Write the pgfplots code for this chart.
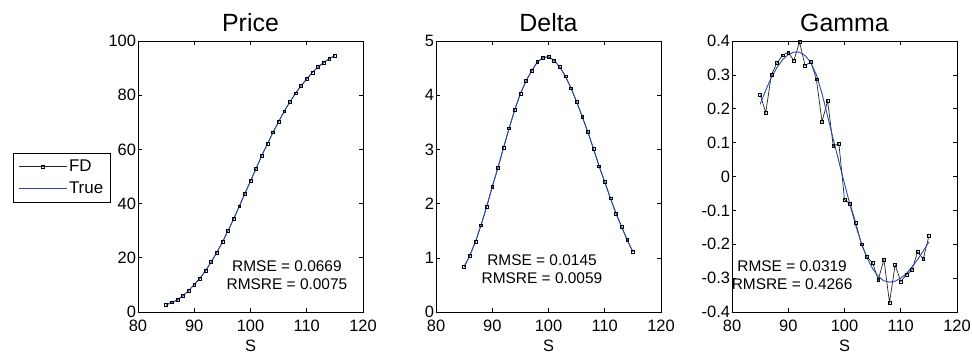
\documentclass[border=0pt]{standalone}
\usepackage{pgfplots}
\pgfplotsset{compat=1.18}
\usepackage{fontspec}
\setmainfont{Liberation Sans}
\definecolor{trueblue}{RGB}{40,70,180}

\pgfplotstableread{
S P D
85 2.6 0.83
86 3.6 1.04
87 4.4 1.29
88 6.0 1.60
89 7.9 1.94
90 10.1 2.31
91 12.4 2.66
92 15.2 3.03
93 18.4 3.39
94 21.9 3.73
95 25.8 4.03
96 30.0 4.26
97 34.3 4.45
98 39.0 4.61
99 43.7 4.69
100 48.3 4.71
101 53.0 4.64
102 57.7 4.52
103 62.0 4.35
104 66.3 4.13
105 70.2 3.88
106 74.1 3.60
107 77.5 3.32
108 80.7 3.01
109 83.5 2.69
110 86.0 2.40
111 88.4 2.10
112 90.4 1.82
113 92.0 1.57
114 93.5 1.33
115 94.6 1.11
}\pricedelta

\pgfplotstableread{
S G GT
85 0.241 0.213
86 0.189 0.255
87 0.300 0.292
88 0.335 0.322
89 0.358 0.345
90 0.366 0.360
91 0.342 0.367
92 0.397 0.367
93 0.327 0.357
94 0.339 0.337
95 0.287 0.300
96 0.162 0.245
97 0.223 0.178
98 0.090 0.110
99 0.097 0.044
100 -0.068 -0.021
101 -0.081 -0.085
102 -0.137 -0.145
103 -0.200 -0.197
104 -0.238 -0.240
105 -0.255 -0.272
106 -0.305 -0.295
107 -0.245 -0.308
108 -0.372 -0.312
109 -0.261 -0.309
110 -0.310 -0.300
111 -0.290 -0.286
112 -0.276 -0.267
113 -0.223 -0.245
114 -0.243 -0.220
115 -0.176 -0.193
}\gammatab

\tikzset{rms/.style={font=\fontsize{15.5}{18}\selectfont, align=center}}
\pgfplotsset{
 myax/.style={scale only axis, width=225bp, height=271bp, anchor=south west,
   xmin=80, xmax=120, xtick={80,90,100,110,120},
   tick align=inside, major tick length=4bp,
   tick style={black, line width=0.6bp}, axis line style={black, line width=0.8bp},
   ticklabel style={font=\fontsize{16.5}{18}\selectfont},
   xticklabel style={yshift=-5bp},
   yticklabel style={xshift=1.5bp},
   title style={font=\fontsize{25}{28}\selectfont},
   xlabel={S}, xlabel style={font=\fontsize{16.5}{18}\selectfont, yshift=-1bp},
   /pgf/number format/assume math mode=true},
 fd/.style={black!85, line width=0.7bp, mark=square, mark size=1.4bp, mark options={solid, black, line width=0.5bp}},
 tr/.style={trueblue, line width=0.9bp, no marks}
}

\begin{document}
\begin{tikzpicture}
\path[use as bounding box] (0,0) rectangle (972bp,356bp);

\begin{axis}[myax, at={(138bp,44bp)}, title={Price},
  ymin=0, ymax=100, ytick={0,20,40,60,80,100},
  legend style={at={(-0.1222,0.587)}, anchor=north east, draw=black, line width=0.6bp,
    font=\fontsize{17}{19}\selectfont, cells={anchor=west}, row sep=5bp,
    inner xsep=5bp, inner ysep=5bp},
  legend image code/.code={\draw[mark repeat=2, mark phase=2, #1] plot coordinates {(0bp,0bp) (24bp,0bp) (48bp,0bp)};}]
\addplot[fd] table[x=S, y=P] {\pricedelta};
\addlegendentry{FD}
\addplot[tr] table[x=S, y=P] {\pricedelta};
\addlegendentry{True}
\node[rms] at (rel axis cs:0.662,0.1365) {RMSE = 0.0669\\RMSRE = 0.0075};
\end{axis}

\begin{axis}[myax, at={(436bp,44bp)}, title={Delta},
  ymin=0, ymax=5, ytick={0,1,2,3,4,5}]
\addplot[fd] table[x=S, y=D] {\pricedelta};
\addplot[tr] table[x=S, y=D] {\pricedelta};
\node[rms] at (rel axis cs:0.471,0.159) {RMSE = 0.0145\\RMSRE = 0.0059};
\end{axis}

\begin{axis}[myax, at={(732bp,44bp)}, title={Gamma},
  ymin=-0.4, ymax=0.4, ytick={-0.4,-0.3,-0.2,-0.1,0,0.1,0.2,0.3,0.4},
  yticklabels={-0.4,-0.3,-0.2,-0.1,0,0.1,0.2,0.3,0.4}]
\addplot[fd] table[x=S, y=G] {\gammatab};
\addplot[tr] table[x=S, y=GT] {\gammatab};
\node[rms] at (rel axis cs:0.267,0.1365) {RMSE = 0.0319\\RMSRE = 0.4266};
\end{axis}
\end{tikzpicture}
\end{document}
